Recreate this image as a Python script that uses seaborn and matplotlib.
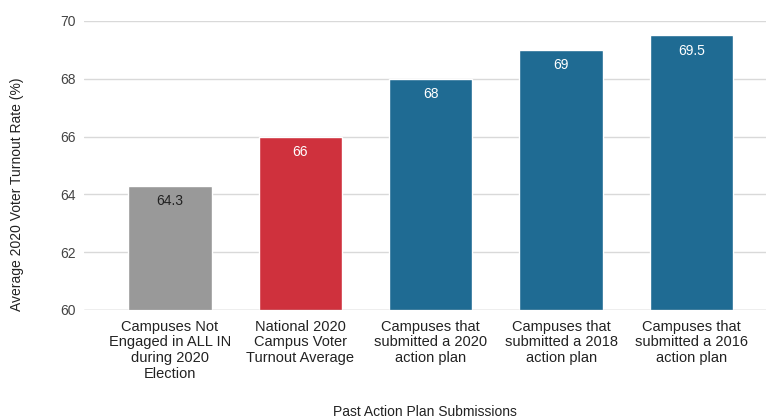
import matplotlib
matplotlib.use("Agg")
import matplotlib.pyplot as plt
import seaborn as sns
import pandas as pd

categories = [
    "Campuses Not\nEngaged in ALL IN\nduring 2020\nElection",
    "National 2020\nCampus Voter\nTurnout Average",
    "Campuses that\nsubmitted a 2020\naction plan",
    "Campuses that\nsubmitted a 2018\naction plan",
    "Campuses that\nsubmitted a 2016\naction plan",
]
values = [64.3, 66, 68, 69, 69.5]
value_labels = ["64.3", "66", "68", "69", "69.5"]
colors = ["#999999", "#CF313D", "#1F6B93", "#1F6B93", "#1F6B93"]
label_colors = ["#222222", "#ffffff", "#ffffff", "#ffffff", "#ffffff"]
yticks = [60, 62, 64, 66, 68, 70]

sns.set_theme(style="white")
plt.rcParams["font.family"] = ["Liberation Sans", "DejaVu Sans"]

df = pd.DataFrame({"cat": categories, "val": values})

fig = plt.figure(figsize=(7.69, 4.2), dpi=100)
ax = fig.add_axes([0.109, 0.262, 0.887, 0.688])
sns.barplot(data=df, x="cat", y="val", hue="cat", palette=colors, legend=False,
            width=0.64, ax=ax, zorder=3, saturation=1)

ax.set_ylim(60, 70)
ax.set_yticks(yticks)
ax.set_yticklabels([str(t) for t in yticks], color="#444444", fontsize=10)
ax.set_xlim(-0.66, 4.57)
ax.grid(axis="y", color="#d9d9d9", linewidth=1, zorder=0)
ax.grid(axis="x", visible=False)
for s in ax.spines.values():
    s.set_visible(False)
ax.axhline(60, color="#cccccc", linewidth=1, zorder=4)
ax.tick_params(axis="both", length=0, pad=6)
ax.set_xticks(range(len(categories)))
ax.set_xticklabels(categories, fontsize=10.5, color="#222222", linespacing=1.15)
ax.tick_params(axis="x", pad=7)

for i, (v, lab, c) in enumerate(zip(values, value_labels, label_colors)):
    ax.annotate(lab, (i, v), xytext=(0, -11), textcoords="offset points",
                ha="center", va="center", fontsize=10, color=c, zorder=5)

ax.set_ylabel("Average 2020 Voter Turnout Rate (%)", fontsize=10, color="#222222")
ax.yaxis.set_label_coords(-0.088, 0.40)
ax.set_xlabel("Past Action Plan Submissions", fontsize=10, color="#222222")
ax.xaxis.set_label_coords(0.5, -0.33)

fig.savefig("out.png", dpi=100)
